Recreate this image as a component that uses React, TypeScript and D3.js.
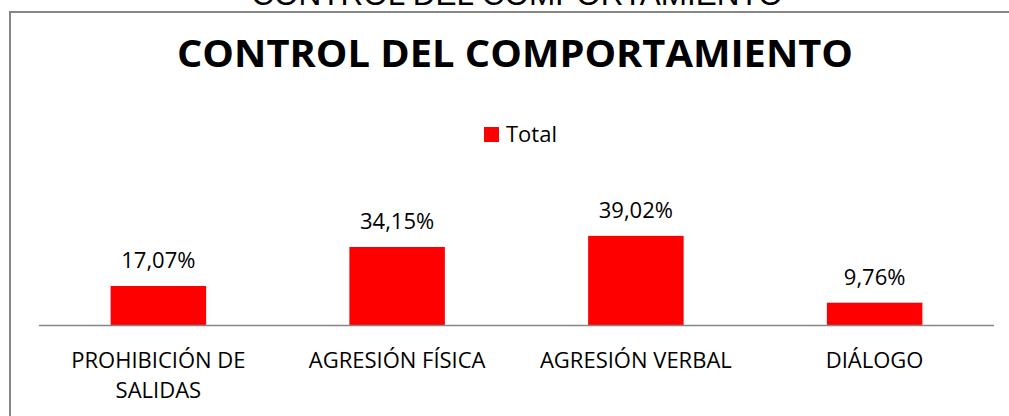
import * as d3 from "d3";
import { useEffect, useRef } from "react";

const categories = [
  ["PROHIBICIÓN DE", "SALIDAS"],
  ["AGRESIÓN FÍSICA"],
  ["AGRESIÓN VERBAL"],
  ["DIÁLOGO"],
];
const values = [0.1707, 0.3415, 0.3902, 0.0976];
const valueLabels = ["17,07%", "34,15%", "39,02%", "9,76%"];
const seriesName = "Total";
const chartTitle = "CONTROL DEL COMPORTAMIENTO";

const W = 1009;
const H = 416;
const plot = { left: 39, right: 994, base: 325 };
const font = "'Open Sans', 'Liberation Sans', sans-serif";
const fs = 22;

const App = () => {
  const svgRef = useRef<SVGSVGElement | null>(null);

  useEffect(() => {
    const svg = d3.select(svgRef.current);
    svg.selectAll("*").remove();

    const x = d3
      .scaleBand<number>()
      .domain(d3.range(values.length))
      .range([plot.left, plot.right])
      .paddingInner(0.6)
      .paddingOuter(0.3);
    const y = d3.scaleLinear().domain([0, 0.45]).range([plot.base, plot.base - 102.8]);

    // heading above the box, mostly cut off by the page edge
    svg
      .append("text")
      .attr("x", 517)
      .attr("y", 5)
      .attr("text-anchor", "middle")
      .attr("font-family", "'Liberation Sans', Arial, sans-serif")
      .attr("font-size", 31.5)
      .attr("fill", "#000")
      .text(chartTitle);

    // chart box
    svg
      .append("path")
      .attr("d", `M10,${H + 5} V12 H${W + 5}`)
      .attr("fill", "none")
      .attr("stroke", "#868686")
      .attr("stroke-width", 2);

    svg
      .append("text")
      .attr("x", 515)
      .attr("y", 67)
      .attr("text-anchor", "middle")
      .attr("font-family", font)
      .attr("font-weight", 700)
      .attr("font-size", 37)
      .attr("textLength", 676)
      .attr("lengthAdjust", "spacingAndGlyphs")
      .attr("fill", "#000")
      .text(chartTitle);

    // legend
    const legend = svg.append("g");
    legend
      .append("rect")
      .attr("x", 484)
      .attr("y", 127)
      .attr("width", 15)
      .attr("height", 15)
      .attr("fill", "#ff0000");
    legend
      .append("text")
      .attr("x", 506)
      .attr("y", 142)
      .attr("font-family", font)
      .attr("font-size", fs)
      .attr("fill", "#000")
      .text(seriesName);

    // bars
    svg
      .append("g")
      .selectAll("rect")
      .data(values)
      .join("rect")
      .attr("x", (_, i) => x(i)!)
      .attr("y", (d) => y(d))
      .attr("width", x.bandwidth())
      .attr("height", (d) => y(0) - y(d))
      .attr("fill", "#ff0000");

    svg
      .append("line")
      .attr("x1", plot.left)
      .attr("x2", plot.right)
      .attr("y1", plot.base + 0.5)
      .attr("y2", plot.base + 0.5)
      .attr("stroke", "#868686")
      .attr("stroke-width", 1.5);

    svg
      .append("g")
      .selectAll("text")
      .data(values)
      .join("text")
      .attr("x", (_, i) => x(i)! + x.bandwidth() / 2)
      .attr("y", (d) => y(d) - 18)
      .attr("text-anchor", "middle")
      .attr("font-family", font)
      .attr("font-size", fs)
      .attr("fill", "#000")
      .text((_, i) => valueLabels[i]);

    // category labels
    const cat = svg
      .append("g")
      .selectAll("text")
      .data(categories)
      .join("text")
      .attr("x", (_, i) => x(i)! + x.bandwidth() / 2)
      .attr("y", 368)
      .attr("text-anchor", "middle")
      .attr("font-family", font)
      .attr("font-size", fs)
      .attr("fill", "#000");
    cat
      .selectAll("tspan")
      .data((d) => d)
      .join("tspan")
      .attr("x", function () {
        return (this.parentNode as SVGTextElement).getAttribute("x");
      })
      .attr("dy", (_, j) => (j === 0 ? 0 : 30))
      .text((d) => d);
  }, []);

  return (
    <div style={{ position: "fixed", left: 0, top: 0 }}>
      <svg ref={svgRef} width={W} height={H} style={{ display: "block", background: "#fff" }} />
    </div>
  );
};

export default App;
